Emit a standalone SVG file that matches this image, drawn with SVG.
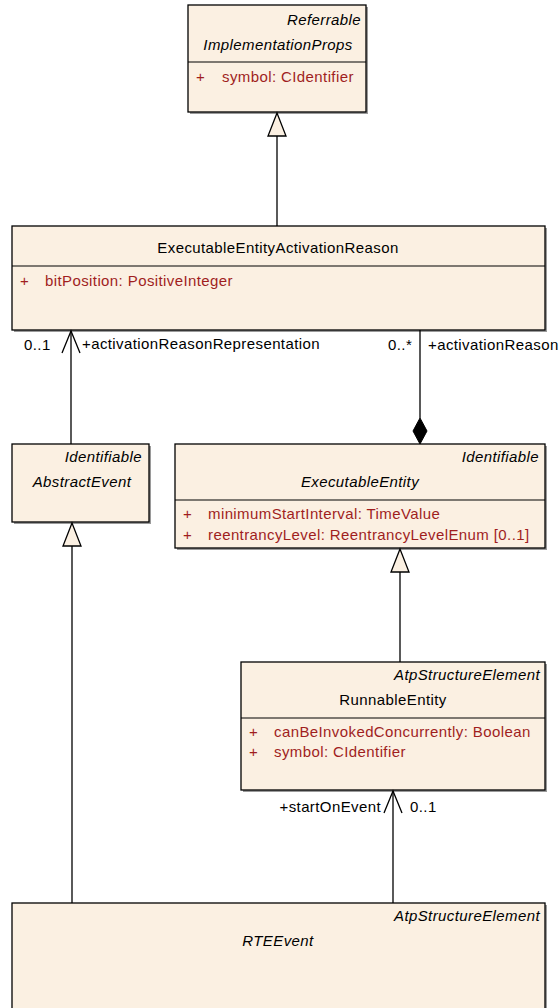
<svg xmlns="http://www.w3.org/2000/svg" width="560" height="1008" viewBox="0 0 560 1008">
<defs>
<style>
.box{fill:#FBF0E2;stroke:#000;stroke-width:1.3}
.sh{fill:#9a9a9a}
.dv{stroke:#000;stroke-width:1.1}
text{font-family:"Liberation Sans",Arial,sans-serif;font-size:15px;letter-spacing:0.4px;fill:#000}
.it{font-style:italic}
.ctr{text-anchor:middle}
.rt{text-anchor:end}
.at{fill:#A01E1E}
.ln{stroke:#000;stroke-width:1.3;fill:none}
.tri{fill:#FBF0E2;stroke:#000;stroke-width:1.3}
</style>
</defs>
<rect width="560" height="1008" fill="#fff"/>

<g id="ImplementationProps">
<rect class="sh" x="190" y="7" width="178" height="107"/>
<rect class="box" x="188" y="5" width="178" height="107"/>
<line class="dv" x1="188" y1="62" x2="366" y2="62"/>
<text class="it rt" x="361" y="25">Referrable</text>
<text class="it ctr" x="278" y="50">ImplementationProps</text>
<text class="at" x="196" y="82">+</text>
<text class="at" x="222" y="82">symbol: CIdentifier</text>
</g>

<g id="ExecutableEntityActivationReason">
<rect class="sh" x="14" y="228" width="533" height="104"/>
<rect class="box" x="12" y="226" width="533" height="104"/>
<line class="dv" x1="12" y1="266" x2="545" y2="266"/>
<text class="ctr" x="278" y="253">ExecutableEntityActivationReason</text>
<text class="at" x="20" y="286">+</text>
<text class="at" x="45" y="286">bitPosition: PositiveInteger</text>
</g>

<g id="AbstractEvent">
<rect class="sh" x="14" y="446" width="137" height="78"/>
<rect class="box" x="12" y="444" width="137" height="78"/>
<text class="it rt" x="142" y="462">Identifiable</text>
<text class="it ctr" x="82" y="487">AbstractEvent</text>
</g>

<g id="ExecutableEntity">
<rect class="sh" x="177" y="446" width="370" height="104"/>
<rect class="box" x="175" y="444" width="370" height="104"/>
<line class="dv" x1="175" y1="500" x2="545" y2="500"/>
<text class="it rt" x="539" y="462">Identifiable</text>
<text class="it ctr" x="360" y="487">ExecutableEntity</text>
<text class="at" x="183" y="519">+</text>
<text class="at" x="208" y="519">minimumStartInterval: TimeValue</text>
<text class="at" x="183" y="540">+</text>
<text class="at" x="208" y="540">reentrancyLevel: ReentrancyLevelEnum [0..1]</text>
</g>

<g id="RunnableEntity">
<rect class="sh" x="243" y="664" width="304" height="128"/>
<rect class="box" x="241" y="662" width="304" height="128"/>
<line class="dv" x1="241" y1="718" x2="545" y2="718"/>
<text class="it rt" x="540" y="680">AtpStructureElement</text>
<text class="ctr" x="393" y="705">RunnableEntity</text>
<text class="at" x="249" y="737">+</text>
<text class="at" x="274" y="737">canBeInvokedConcurrently: Boolean</text>
<text class="at" x="249" y="757">+</text>
<text class="at" x="274" y="757">symbol: CIdentifier</text>
</g>

<g id="RTEEvent">
<rect class="sh" x="14" y="905" width="533" height="110"/>
<rect class="box" x="12" y="903" width="533" height="110"/>
<text class="it rt" x="540" y="921">AtpStructureElement</text>
<text class="it ctr" x="278" y="946">RTEEvent</text>
</g>

<g id="connectors">
<line class="ln" x1="277" y1="226" x2="277" y2="136"/>
<path class="tri" d="M277,113 L268,136 L286,136 Z"/>

<line class="ln" x1="71" y1="444" x2="71" y2="331"/>
<path class="ln" d="M62,353 L71,331 L80,353"/>
<text x="24" y="350">0..1</text>
<text x="82" y="349">+activationReasonRepresentation</text>

<line class="ln" x1="420" y1="330" x2="420" y2="418"/>
<path d="M420,418 L427,431 L420,444 L413,431 Z" fill="#000" stroke="#000"/>
<text x="388" y="350">0..*</text>
<text x="428" y="350">+activationReason</text>

<line class="ln" x1="72" y1="903" x2="72" y2="546"/>
<path class="tri" d="M72,523 L63,546 L81,546 Z"/>

<line class="ln" x1="400" y1="662" x2="400" y2="572"/>
<path class="tri" d="M400,549 L391,572 L409,572 Z"/>

<line class="ln" x1="393" y1="903" x2="393" y2="791"/>
<path class="ln" d="M384,813 L393,791 L402,813"/>
<text class="rt" x="381" y="812">+startOnEvent</text>
<text x="410" y="812">0..1</text>
</g>
</svg>
